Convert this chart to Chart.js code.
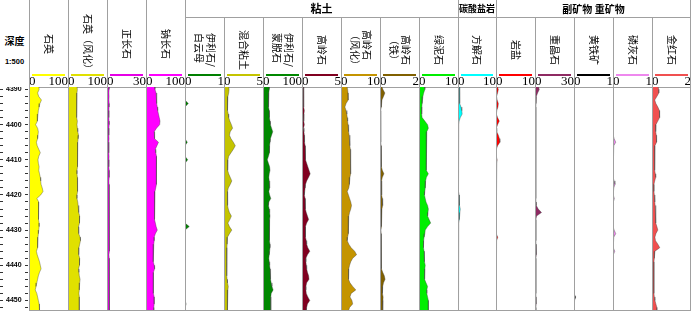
<!DOCTYPE html>
<html>
<head>
<meta charset="utf-8">
<title>矿物剖面</title>
<script src="https://cdn.jsdelivr.net/npm/chart.js@4.4.1/dist/chart.umd.min.js"></script>
<style>
  body { margin: 0; background: #fff; }
  #log { position: relative; width: 691px; height: 312px; overflow: hidden; background: #fff;
         font-family: "Noto Sans CJK SC", sans-serif; color: #000; }
  #log canvas { position: absolute; }
  .vl { position: absolute; width: 1px; background: #a0a0a0; }
  .hl { position: absolute; height: 1px; background: #a0a0a0; }
  .name { position: absolute; display: flex; align-items: center; justify-content: center; }
  .name span { writing-mode: vertical-rl; text-orientation: sideways; font-size: 10px; line-height: 12px; white-space: pre; }
  .grp { position: absolute; top: 0; height: 17px; line-height: 17px; text-align: center; font-weight: bold; font-size: 10px; white-space: nowrap; }
  .key { position: absolute; top: 74px; height: 2px; }
</style>
</head>
<body>
<div id="log">
  <div style="position:absolute;left:0;width:29px;top:35px;line-height:12px;text-align:center;font-weight:bold;font-size:10px;">深度</div>
  <div style="position:absolute;left:0;width:29px;top:57px;line-height:10px;text-align:center;font:bold 7.5px 'Liberation Sans',sans-serif;color:#000;">1:500</div>
</div>
<script>
// sample depths (m)
const depth = [4389, 4390, 4391, 4392, 4393, 4394, 4395, 4396, 4397, 4398,
  4399, 4400, 4401, 4402, 4403, 4404, 4405, 4406, 4407, 4408,
  4409, 4410, 4411, 4412, 4413, 4414, 4415, 4416, 4417, 4418,
  4419, 4420, 4421, 4422, 4423, 4424, 4425, 4426, 4427, 4428,
  4429, 4430, 4431, 4432, 4433, 4434, 4435, 4436, 4437, 4438,
  4439, 4440, 4441, 4442, 4443, 4444, 4445, 4446, 4447, 4448,
  4449, 4450, 4451, 4452, 4453];

const trackNames = ['石英', '石英（风化）', '正长石', '钠长石', '伊利石/\n白云母', '混合粘土',
  '伊利石/\n蒙脱石', '高岭石', '高岭石\n（风化）', '高岭石\n（铁）', '绿泥石', '方解石',
  '岩盐', '重晶石', '黄铁矿', '磷灰石', '金红石'];
const trackMax = [100, 100, 30, 100, 1, 5, 100, 5, 10, 2, 10, 10, 10, 30, 1, 1, 2];
const depthLabels = [4390, 4400, 4410, 4420, 4430, 4440, 4450];
const groupNames = ['粘土', '碳酸盐岩', '副矿物 重矿物'];
const groupTracks = [[4, 10], [11, 11], [12, 16]];

const quartz = [25, 26, 22, 25, 32, 28, 26, 24, 23, 22,
  21, 17, 22, 24, 23, 22, 19, 21, 25, 29,
  25, 23, 24, 26, 25, 27, 29, 30, 31, 34,
  36, 30, 20, 25, 24, 24, 24, 25, 25, 26,
  26, 25, 24, 23, 23, 22, 21, 19, 21, 24,
  27, 29, 31, 27, 24, 22, 20, 18, 16, 20,
  22, 24, 26, 27, 27];
const quartzW = [23, 24, 23, 22, 21, 22, 22, 23, 22, 23,
  24, 23, 24, 25, 27, 26, 25, 24, 25, 24,
  25, 25, 24, 24, 23, 23, 24, 24, 25, 25,
  24, 23, 23, 25, 26, 27, 28, 30, 30, 29,
  27, 27, 28, 31, 32, 30, 28, 27, 28, 30,
  30, 29, 27, 28, 29, 31, 30, 29, 29, 28,
  29, 29, 29, 29, 29];
const orthoclase = [1.8, 1.6, 1.5, 1.6, 1.5, 1.7, 1.6, 1.5, 1.4, 1.5,
  1.6, 1.7, 1.5, 1.4, 1.5, 1.6, 1.4, 1.3, 1.4, 1.5,
  1.6, 1.5, 1.4, 1.5, 1.7, 1.8, 1.6, 1.5, 1.6, 1.8,
  1.9, 2.0, 1.8, 1.6, 1.7, 1.9, 2.1, 2.0, 1.8, 1.7,
  1.6, 1.8, 2.0, 2.2, 2.0, 1.8, 1.7, 1.6, 1.5, 1.7,
  1.9, 2.0, 2.1, 1.9, 1.7, 1.6, 1.8, 2.0, 2.2, 2.0,
  1.9, 1.8, 1.7, 1.8, 1.8];
const albite = [22, 23, 26, 27, 27, 28, 29, 30, 32, 34,
  36, 35, 27, 21, 21, 23, 32, 28, 24, 25,
  27, 28, 27, 26, 26, 27, 27, 27, 26, 25,
  23, 23, 23, 22, 21, 21, 21, 22, 22, 24,
  26, 29, 24, 21, 21, 20, 19, 19, 18, 18,
  19, 21, 22, 19, 18, 19, 19, 18, 19, 20,
  21, 21, 21, 20, 20];
const illiteMica = [0, 0, 0, 0, 0, 0.085, 0, 0, 0, 0,
  0, 0, 0, 0, 0, 0, 0.06, 0, 0, 0,
  0, 0.07, 0, 0, 0, 0, 0, 0, 0, 0,
  0, 0, 0, 0, 0, 0, 0, 0, 0, 0,
  0.11, 0, 0, 0, 0, 0, 0, 0, 0, 0,
  0, 0, 0, 0, 0, 0, 0, 0, 0, 0,
  0, 0, 0.03, 0, 0];
const mixedClay = [0.6, 0.65, 0.6, 0.5, 0.45, 0.4, 0.45, 0.5, 0.55, 0.6,
  0.75, 0.95, 1.1, 0.8, 0.7, 0.9, 1.2, 1.45, 1.2, 0.9,
  0.6, 0.5, 0.45, 0.45, 0.5, 0.6, 0.8, 1.0, 0.8, 0.55,
  0.45, 0.4, 0.45, 0.5, 0.5, 0.55, 0.7, 0.95, 0.75, 0.5,
  0.7, 1.0, 0.7, 0.45, 0.4, 0.4, 0.38, 0.35, 0.35, 0.35,
  0.35, 0.35, 0.35, 0.35, 0.38, 0.4, 0.45, 0.55, 0.5, 0.4,
  0.4, 0.5, 0.45, 0.45, 0.45];
const illiteSmectite = [16, 16, 15, 14, 14, 14, 15, 16, 16, 17,
  18, 19, 22, 25, 22, 19, 18, 17, 17, 16,
  14, 11, 14, 17, 18, 16, 15, 16, 17, 17,
  15, 17, 20, 15, 14, 16, 17, 18, 17, 16,
  16, 17, 17, 16, 17, 18, 18, 17, 16, 15,
  16, 17, 18, 19, 19, 20, 21, 23, 26, 21,
  20, 20, 20, 20, 20];
const kaolinite = [0.2, 0.2, 0.2, 0.25, 0.2, 0.2, 0.25, 0.3, 0.25, 0.2,
  0.25, 0.3, 0.2, 0.25, 0.3, 0.3, 0.35, 0.4, 0.45, 0.4,
  0.45, 0.5, 0.6, 0.75, 0.9, 1.05, 0.85, 0.6, 0.45, 0.4,
  0.35, 0.3, 0.4, 0.45, 0.4, 0.45, 0.55, 0.7, 0.85, 0.6,
  0.45, 0.4, 0.45, 0.5, 0.55, 0.6, 0.75, 1.0, 0.7, 0.5,
  0.5, 0.55, 0.6, 0.7, 0.85, 0.9, 0.6, 0.5, 0.5, 0.55,
  0.75, 1.0, 0.7, 0.6, 0.55];
const kaoliniteW = [1.5, 1.7, 1.8, 1.9, 1.8, 1.3, 1.0, 1.3, 1.5, 1.6,
  1.7, 1.8, 1.9, 2.0, 2.1, 2.2, 2.3, 2.3, 2.4, 2.4,
  2.5, 2.5, 2.5, 2.5, 2.5, 2.4, 2.3, 2.2, 2.1, 2.0,
  1.6, 1.9, 2.2, 2.5, 2.7, 2.5, 2.2, 2.0, 1.9, 1.9,
  1.9, 1.9, 1.8, 1.7, 1.6, 2.0, 2.6, 3.5, 4.0, 3.0,
  2.5, 2.2, 2.0, 1.9, 1.9, 2.0, 2.3, 3.0, 3.8, 2.6,
  2.3, 2.8, 3.0, 2.2, 1.9];
const kaoliniteFe = [0.08, 0.15, 0.25, 0.18, 0.1, 0.08, 0.06, 0.03, 0, 0.01,
  0.05, 0.05, 0.05, 0.05, 0.05, 0.05, 0.05, 0.06, 0.06, 0.07,
  0.08, 0.08, 0.08, 0.08, 0.12, 0.2, 0.12, 0.08, 0.08, 0.08,
  0.08, 0.1, 0.12, 0.15, 0.12, 0.1, 0.09, 0.08, 0.08, 0.07,
  0.06, 0.05, 0.06, 0.07, 0.07, 0.06, 0.06, 0.06, 0.07, 0.08,
  0.08, 0.09, 0.1, 0.14, 0.22, 0.26, 0.18, 0.14, 0.12, 0.13,
  0.16, 0.15, 0.14, 0.14, 0.14];
const chlorite = [1.4, 1.5, 1.2, 1.0, 0.8, 0.8, 0.75, 0.7, 0.7, 0.8,
  1.5, 2.2, 2.4, 2.0, 1.9, 1.8, 1.8, 1.8, 1.9, 1.9,
  2.0, 1.9, 1.8, 1.8, 2.0, 2.4, 1.9, 1.7, 1.6, 1.6,
  1.5, 1.4, 1.6, 1.8, 2.2, 2.4, 2.3, 2.2, 2.6, 3.0,
  2.2, 1.6, 1.5, 1.3, 1.2, 1.1, 1.2, 1.3, 1.3, 1.4,
  1.5, 1.6, 1.5, 1.4, 1.4, 1.5, 1.8, 2.2, 2.0, 2.0,
  2.2, 2.4, 2.4, 2.4, 2.4];
const calcite = [0.4, 0.5, 0.5, 0.4, 0.3, 0.5, 0.8, 1.0, 1.1, 0.6,
  0.3, 0.2, 0.2, 0.15, 0.15, 0.15, 0.1, 0.1, 0.15, 0.15,
  0.1, 0.1, 0.1, 0.1, 0.15, 0.15, 0.1, 0.1, 0.1, 0.15,
  0.2, 0.3, 0.3, 0.4, 0.5, 0.6, 0.5, 0.4, 0.3, 0.2,
  0.15, 0.15, 0.1, 0.1, 0.1, 0.15, 0.1, 0.1, 0.1, 0.1,
  0.1, 0.15, 0.15, 0.1, 0.1, 0.1, 0.1, 0.15, 0.15, 0.1,
  0.1, 0.15, 0.2, 0.25, 0.25];
const halite = [0.3, 0.6, 0.4, 0.15, 0.3, 0.6, 0.5, 0.2, 0.1, 0.4,
  0.85, 0.4, 0.1, 0.2, 0.6, 0.9, 1.0, 0.4, 0.1, 0.05,
  0.1, 0.3, 0.2, 0.05, 0.05, 0.05, 0.05, 0.05, 0.05, 0.05,
  0.1, 0.1, 0.05, 0.05, 0.05, 0.05, 0.05, 0.05, 0.05, 0.05,
  0.05, 0.05, 0.1, 0.45, 0.15, 0.05, 0.05, 0.05, 0.05, 0.05,
  0.05, 0.05, 0.05, 0.05, 0.05, 0.05, 0.05, 0.05, 0.05, 0.05,
  0.05, 0.05, 0.1, 0.05, 0.05];
const barite = [2.5, 3.3, 2.0, 1.0, 0.8, 0.8, 0.7, 0.7, 0.6, 0.6,
  0.6, 0.6, 0.6, 0.7, 0.7, 0.6, 0.6, 0.6, 0.7, 0.6,
  0.6, 0.6, 0.6, 0.7, 0.7, 0.6, 0.6, 0.6, 0.7, 0.7,
  0.7, 0.7, 0.7, 0.8, 1.0, 2.5, 5.0, 1.2, 0.7, 0.7,
  0.7, 0.7, 0.7, 0.7, 0.7, 0.8, 1.0, 1.2, 0.8, 0.7,
  0.7, 0.7, 0.7, 0.7, 0.7, 0.7, 0.7, 0.7, 0.7, 0.7,
  0.8, 1.0, 0.8, 0.7, 0.7];
const pyrite = [0, 0, 0, 0, 0, 0, 0, 0, 0, 0,
  0, 0, 0, 0, 0, 0, 0, 0, 0, 0,
  0, 0, 0, 0, 0, 0, 0, 0, 0, 0,
  0, 0, 0, 0, 0, 0, 0, 0, 0, 0,
  0, 0, 0, 0, 0, 0, 0, 0, 0, 0,
  0, 0, 0, 0, 0, 0, 0, 0, 0, 0,
  0.045, 0.015, 0, 0, 0];
const apatite = [0, 0, 0, 0, 0, 0, 0, 0, 0.02, 0.02,
  0.02, 0.01, 0, 0, 0, 0.03, 0.07, 0.02, 0, 0,
  0, 0, 0, 0, 0, 0, 0, 0.03, 0.05, 0.02,
  0, 0.01, 0.035, 0.01, 0, 0, 0, 0, 0, 0,
  0, 0.03, 0.07, 0.02, 0, 0, 0.02, 0.045, 0.01, 0,
  0, 0, 0, 0.01, 0.01, 0, 0, 0, 0, 0,
  0, 0, 0, 0, 0];
const rutile = [0.3, 0.35, 0.35, 0.25, 0.14, 0.2, 0.3, 0.38, 0.4, 0.38,
  0.3, 0.2, 0.18, 0.2, 0.22, 0.25, 0.22, 0.15, 0.14, 0.13,
  0.14, 0.14, 0.13, 0.13, 0.15, 0.17, 0.19, 0.14, 0.1, 0.1,
  0.1, 0.12, 0.14, 0.15, 0.16, 0.18, 0.19, 0.19, 0.2, 0.2,
  0.25, 0.3, 0.2, 0.15, 0.18, 0.3, 0.4, 0.15, 0.12, 0.12,
  0.1, 0.1, 0.1, 0.1, 0.1, 0.1, 0.1, 0.1, 0.1, 0.1,
  0.12, 0.15, 0.2, 0.25, 0.25];

const series = [quartz, quartzW, orthoclase, albite, illiteMica, mixedClay, illiteSmectite,
  kaolinite, kaoliniteW, kaoliniteFe, chlorite, calcite, halite, barite, pyrite, apatite, rutile];
const colors = ['#ffff00', '#e0e000', '#e600e6', '#ff00ff', '#008000', '#c4c400', '#008800',
  '#800020', '#c49400', '#806000', '#00ee00', '#00ffff', '#ff0000', '#8e2a62', '#000000',
  '#ee88ee', '#f05050'];

// layout
const edges = [29, 68, 107, 146, 185, 224, 263, 302, 341, 380, 419, 458, 496, 535, 574, 613, 652, 691];
const fullEdges = [29, 68, 107, 146, 185, 458, 496, 690];
const depthMin = 4389.3, depthMax = 4453;
const plotTop = 87, plotBottom = 311, axisTop = 73;

const log = document.getElementById('log');

function box(cls, css, text) {
  const el = document.createElement('div');
  el.className = cls;
  Object.assign(el.style, css);
  if (text) el.textContent = text;
  log.appendChild(el);
  return el;
}

function canvasAt(left, top, w, h) {
  const c = document.createElement('canvas');
  c.width = w; c.height = h;
  c.style.left = left + 'px';
  c.style.top = top + 'px';
  log.appendChild(c);
  return c;
}

const common = {
  responsive: false,
  animation: false,
  events: [],
  layout: { padding: 0 },
  plugins: { legend: { display: false }, tooltip: { enabled: false } }
};

// depth track
new Chart(canvasAt(0, plotTop, 29, plotBottom - plotTop), {
  type: 'line',
  data: { datasets: [] },
  options: {
    ...common,
    scales: {
      x: { display: false },
      y: {
        type: 'linear', min: depthMin, max: depthMax, reverse: true, position: 'left',
        afterBuildTicks: s => {
          const t = [];
          for (let v = 4390; v <= 4452; v += 2) t.push({ value: v });
          s.ticks = t;
        },
        afterFit: s => { s.width = 0; s.paddingTop = 0; s.paddingBottom = 0; },
        ticks: {
          mirror: true, padding: 6, autoSkip: false, color: '#000',
          font: { family: 'Liberation Sans', size: 7, weight: 'bold' },
          callback: v => depthLabels.includes(v) ? String(v) : ''
        },
        grid: { drawTicks: false, color: '#333', lineWidth: 1 },
        border: { display: false, dash: [3, 22] }
      }
    }
  }
});

// mineral tracks
series.forEach((vals, i) => {
  const left = edges[i], w = edges[i + 1] - edges[i];
  new Chart(canvasAt(left, axisTop, w, plotBottom - axisTop), {
    type: 'line',
    data: {
      datasets: [{
        data: depth.map((d, k) => ({ x: vals[k], y: d })),
        backgroundColor: colors[i],
        borderColor: 'rgba(60,60,60,0.55)',
        borderWidth: 0.7,
        pointRadius: 0,
        fill: 'origin',
        tension: 0
      }]
    },
    options: {
      ...common,
      indexAxis: 'y',
      scales: {
        x: {
          type: 'linear', position: 'top', min: 0, max: trackMax[i],
          afterBuildTicks: s => { s.ticks = [{ value: s.min }, { value: s.max }]; },
          afterFit: s => { s.height = plotTop - axisTop; s.paddingLeft = 0; s.paddingRight = 0; },
          ticks: {
            align: 'inner', padding: -1, maxRotation: 0, autoSkip: false, color: '#000',
            font: { family: "'Liberation Serif', 'Times New Roman', serif", size: 13, lineHeight: 1 }
          },
          grid: { display: false, drawTicks: false, tickLength: 0 },
          border: { display: true, color: '#a0a0a0', width: 1 }
        },
        y: { type: 'linear', min: depthMin, max: depthMax, reverse: true, display: false }
      }
    }
  });
});

// header: names, key lines, groups
trackNames.forEach((n, i) => {
  const left = edges[i], w = edges[i + 1] - edges[i];
  const top = i < 4 ? 0 : 17;
  const nb = box('name', { left: left + 'px', width: w + 'px', top: top + 'px', height: (i < 4 ? 88 : 83 - top) + 'px' });
  const sp = document.createElement('span');
  sp.textContent = n;
  nb.appendChild(sp);
  box('key', { left: (left + 3) + 'px', width: (w - 6) + 'px', background: colors[i] });
});

groupNames.forEach((g, k) => {
  const [a, b] = groupTracks[k];
  box('grp', { left: edges[a] + 'px', width: (edges[b + 1] - edges[a]) + 'px', fontSize: k === 0 ? '11px' : (k === 1 ? '9px' : '10px') }, g);
});

// frame lines
edges.forEach(e => {
  const x = Math.min(e, 690);
  const top = fullEdges.includes(x) ? 0 : 17;
  box('vl', { left: x + 'px', top: top + 'px', height: (plotBottom - top) + 'px' });
});
box('hl', { left: '185px', top: '17px', width: '506px' });
box('hl', { left: '29px', top: (plotBottom - 1) + 'px', width: '662px' });
</script>
</body>
</html>
